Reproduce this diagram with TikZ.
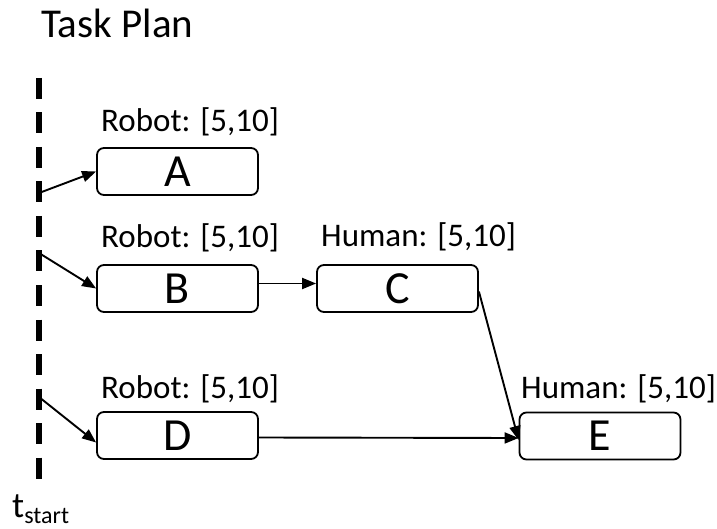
\documentclass[tikz,border=0pt]{standalone}
\usepackage{fontspec}
\setmainfont{Carlito}
\usetikzlibrary{arrows.meta}
\tikzset{
  task/.style={draw=black, line width=1.8pt, rounded corners=7pt, minimum width=161pt, minimum height=47pt, inner sep=0pt, font=\fontsize{46}{50}\selectfont},
  lbl/.style={anchor=base west, inner sep=0pt, font=\fontsize{33}{38}\selectfont},
  arr/.style={line width=1.9pt, -{Triangle[length=14pt,width=11pt]}},
  timeline/.style={line width=5.5pt, dash pattern=on 21pt off 13.5pt}
}
\begin{document}
\begin{tikzpicture}[x=1pt,y=-1pt]
\useasboundingbox (0,0) rectangle (717,529);
% title
\node[anchor=base west, inner sep=0pt, font=\fontsize{41}{46}\selectfont] (title) at (41,38) {Task Plan};
% timeline
\coordinate (ltop) at (39,78);
\coordinate (lbot) at (39,482);
\draw[timeline] (ltop) -- (lbot);
\node[anchor=base west, inner sep=0pt, font=\fontsize{36}{40}\selectfont] (tstart) at (12,517) {t\raisebox{-6pt}{\fontsize{24}{28}\selectfont start}};
% tasks
\node[task] (A) at (177.5,171.5) {A};
\node[task] (B) at (177.5,288.5) {B};
\node[task] (C) at (397.5,288.5) {C};
\node[task] (D) at (177.5,435.5) {D};
\node[task] (E) at (600,436) {E};
% labels
\node[lbl] (lA) at (101,132) {Robot: [5,10]};
\node[lbl] (lB) at (101,248) {Robot: [5,10]};
\node[lbl] (lC) at (321,247) {Human: [5,10]};
\node[lbl] (lD) at (101,398) {Robot: [5,10]};
\node[lbl] (lE) at (521,398) {Human: [5,10]};
% start points on the timeline
\coordinate (sA) at (39,193);
\coordinate (sB) at (39,253);
\coordinate (sD) at (39,397);
% arrows
\draw[arr] (sA) -- (A.west);
\draw[arr] (sB) -- (B.west);
\draw[arr] (sD) -- ([yshift=-7pt]D.west);
\draw[arr] ([yshift=5pt]B.east) -- ([yshift=5pt]C.west);
\draw[arr] ([yshift=-3pt]C.east) -- ([yshift=-4pt]E.west);
\draw[arr] ([yshift=-2pt]D.east) -- ([yshift=-2pt]E.west);
\end{tikzpicture}
\end{document}
